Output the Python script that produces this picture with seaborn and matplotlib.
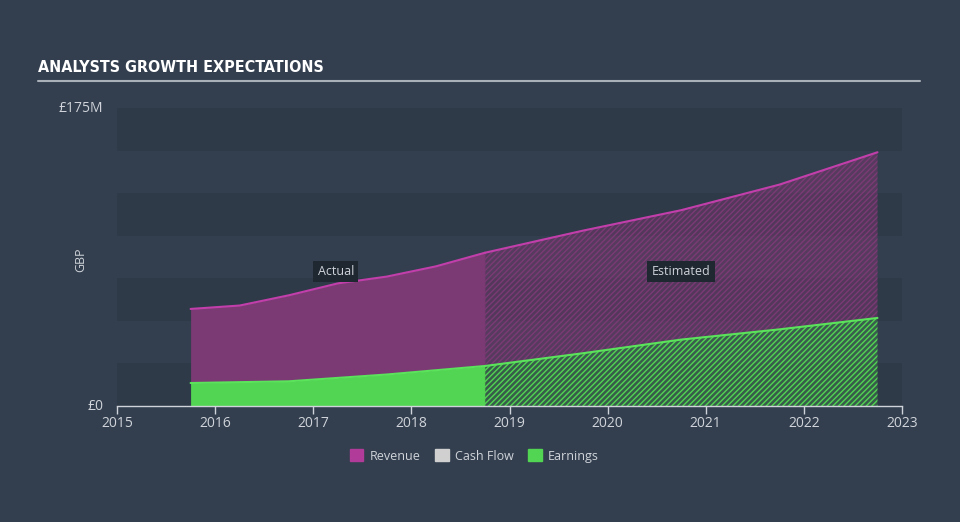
import numpy as np
import pandas as pd
import seaborn as sns
import matplotlib.pyplot as plt
from matplotlib.patches import Patch

# values in millions GBP, x as decimal years
actual_years = [2015.75, 2016.25, 2016.75, 2017.25, 2017.75, 2018.25, 2018.75]
revenue_actual = [57, 59, 65, 72, 76, 82, 90]
earnings_actual = [13.5, 14, 14.5, 16.5, 18.5, 21, 23.5]

est_years = [2018.75, 2019.75, 2020.75, 2021.75, 2022.75]
revenue_est = [90, 103, 115, 130, 149]
earnings_est = [23.5, 31, 39, 45, 51.7]

year_ticks = list(range(2015, 2024))
y_ticks = [0, 175]
y_tick_labels = ['£0', '£175M']

bg = '#333f4f'
band_dark = '#2e3a48'
purple = '#c23fab'
purple_fill = '#7b3a74'
green = '#5ae35b'
green_fill = '#52d552'
txt = '#d0d4da'

sns.set_theme(style='white')
plt.rcParams['font.family'] = ['Open Sans', 'DejaVu Sans']
plt.rcParams['hatch.linewidth'] = 1.0

fig = plt.figure(figsize=(9.6, 5.22), dpi=100, facecolor=bg)
ax = fig.add_axes([117/960, 116/522, 785/960, 298/522])
ax.set_facecolor(bg)

# horizontal bands
for i, lo in enumerate(range(0, 175, 25)):
    if i % 2 == 0:
        ax.axhspan(lo, lo + 25, color=band_dark, lw=0, zorder=0)

act = pd.DataFrame({'year': actual_years, 'revenue': revenue_actual, 'earnings': earnings_actual})
est = pd.DataFrame({'year': est_years, 'revenue': revenue_est, 'earnings': earnings_est})

# actual: solid fills
ax.fill_between(act['year'], act['earnings'], act['revenue'], color=purple_fill, lw=0, zorder=1)
ax.fill_between(act['year'], 0, act['earnings'], color=green_fill, lw=0, zorder=1)

# estimated: hatched fills
ax.fill_between(est['year'], est['earnings'], est['revenue'], facecolor=(0.45, 0.22, 0.43, 0.55),
                hatch='//////', edgecolor=purple_fill, lw=0, zorder=1)
ax.fill_between(est['year'], 0, est['earnings'], facecolor=(0.25, 0.45, 0.3, 0.6),
                hatch='//////', edgecolor=green_fill, lw=0, zorder=1)

for d in (act, est):
    sns.lineplot(data=d, x='year', y='revenue', color=purple, lw=1.5, ax=ax, zorder=2)
    sns.lineplot(data=d, x='year', y='earnings', color=green, lw=1.5, ax=ax, zorder=2)

ax.set_xlim(2015, 2023)
ax.set_ylim(0, 175)
ax.set_xticks(year_ticks)
ax.set_xticklabels([str(y) for y in year_ticks], color=txt, fontsize=10)
ax.set_yticks(y_ticks)
ax.set_yticklabels(y_tick_labels, color=txt, fontsize=10, va='center')
ax.tick_params(axis='x', length=6, width=1, color=txt, pad=1, direction='out', bottom=True)
ax.tick_params(axis='y', length=0, pad=10)
ax.set_xlabel('')
ax.set_ylabel('GBP', color=txt, fontsize=9)
ax.yaxis.set_label_coords(-0.038, 0.49)
for s in ['top', 'right', 'left']:
    ax.spines[s].set_visible(False)
ax.spines['bottom'].set_color(txt)
ax.spines['bottom'].set_linewidth(1)

box = dict(boxstyle='square,pad=0.35', fc='#1f2731', ec='none')
ax.text(2017.23, 79, 'Actual', color=txt, fontsize=9, ha='center', va='center', bbox=box, zorder=3)
ax.text(2020.75, 79, 'Estimated', color=txt, fontsize=9, ha='center', va='center', bbox=box, zorder=3)

# title and rule
fig.text(38/960, 1 - 68/522, 'ANALYSTS GROWTH EXPECTATIONS', color='white', fontsize=11.5,
         fontweight='bold', fontstretch='condensed', family=['DejaVu Sans'], va='center')
fig.add_artist(plt.Line2D([38/960, 920/960], [1 - 81/522, 1 - 81/522], color='#a9b0b8', lw=1.5))

handles = [Patch(color='#b03b98', label='Revenue'),
           Patch(color='#d0d0d0', label='Cash Flow'),
           Patch(color='#52d552', label='Earnings')]
leg = fig.legend(handles=handles, loc='center', bbox_to_anchor=(0.494, 1 - 456/522), ncol=3,
                 frameon=False, fontsize=9, handlelength=1.1, handleheight=1.1, columnspacing=1.15,
                 handletextpad=0.5)
for t in leg.get_texts():
    t.set_color(txt)

fig.savefig('out.png', dpi=100, facecolor=bg)
